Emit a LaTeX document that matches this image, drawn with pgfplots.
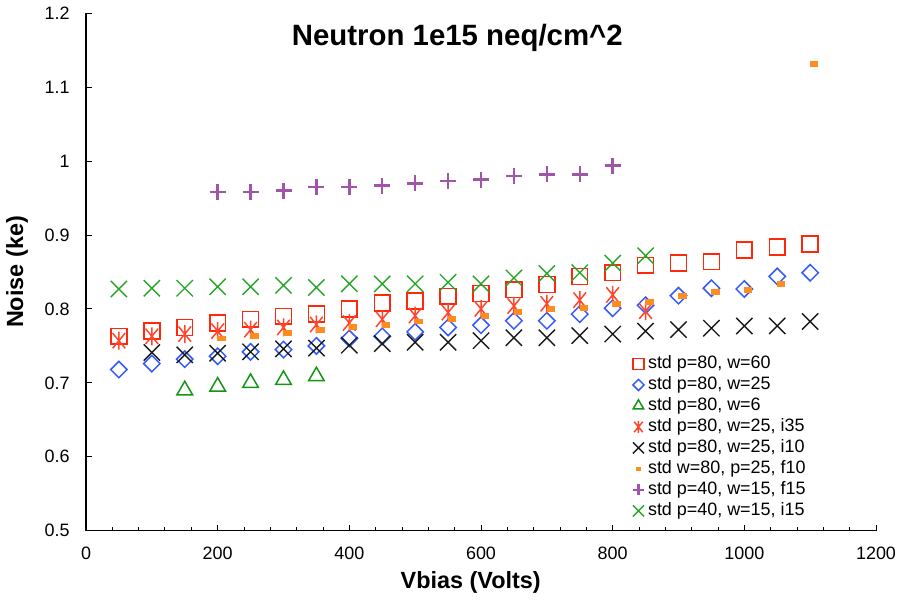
\documentclass[border=0pt]{standalone}
\usepackage{fontspec}
\setmainfont{Liberation Sans}
\usepackage{pgfplots}
\pgfplotsset{compat=1.18}
\usetikzlibrary{plotmarks}

\definecolor{cSq}{RGB}{255,40,10}
\definecolor{cDi}{RGB}{50,90,255}
\definecolor{cTr}{RGB}{20,150,20}
\definecolor{cAs}{RGB}{255,70,45}
\definecolor{cBx}{RGB}{25,25,25}
\definecolor{cOr}{RGB}{255,140,30}
\definecolor{cPu}{RGB}{160,85,170}
\definecolor{cGx}{RGB}{40,165,40}

\pgfdeclareplotmark{xast}{%
  \pgfpathmoveto{\pgfqpoint{0pt}{\pgfplotmarksize}}%
  \pgfpathlineto{\pgfqpoint{0pt}{-\pgfplotmarksize}}%
  \pgfpathmoveto{\pgfqpoint{-0.7\pgfplotmarksize}{-0.85\pgfplotmarksize}}%
  \pgfpathlineto{\pgfqpoint{0.7\pgfplotmarksize}{0.85\pgfplotmarksize}}%
  \pgfpathmoveto{\pgfqpoint{-0.7\pgfplotmarksize}{0.85\pgfplotmarksize}}%
  \pgfpathlineto{\pgfqpoint{0.7\pgfplotmarksize}{-0.85\pgfplotmarksize}}%
  \pgfusepathqstroke}
\pgfdeclareplotmark{dashbox}{%
  \pgfpathrectangle{\pgfqpoint{-\pgfplotmarksize}{-0.7\pgfplotmarksize}}{\pgfqpoint{2\pgfplotmarksize}{1.4\pgfplotmarksize}}%
  \pgfusepathqfill}

\pgfplotstableread{
x y
50 0.763
100 0.770
150 0.775
200 0.781
250 0.786
300 0.790
350 0.793
400 0.800
450 0.808
500 0.811
550 0.817
600 0.821
650 0.826
700 0.833
750 0.844
800 0.849
850 0.859
900 0.862
950 0.864
1000 0.880
1050 0.884
1100 0.888
}\tabSq
\pgfplotstableread{
x y
50 0.718
100 0.726
150 0.732
200 0.736
250 0.742
300 0.745
350 0.750
400 0.760
450 0.763
500 0.769
550 0.775
600 0.778
650 0.784
700 0.784
750 0.793
800 0.801
850 0.805
900 0.818
950 0.828
1000 0.827
1050 0.844
1100 0.849
}\tabDi
\pgfplotstableread{
x y
150 0.690
200 0.695
250 0.700
300 0.704
350 0.709
}\tabTr
\pgfplotstableread{
x y
50 0.757
100 0.763
150 0.766
200 0.770
250 0.772
300 0.775
350 0.779
400 0.781
450 0.786
500 0.791
550 0.795
600 0.800
650 0.804
700 0.807
750 0.812
800 0.819
850 0.797
}\tabAs
\pgfplotstableread{
x y
100 0.741
150 0.738
200 0.740
250 0.742
300 0.746
350 0.747
400 0.751
450 0.753
500 0.755
550 0.755
600 0.757
650 0.761
700 0.761
750 0.764
800 0.766
850 0.770
900 0.772
950 0.774
1000 0.777
1050 0.777
1100 0.783
}\tabBx
\pgfplotstableread{
x y
206 0.760
256 0.764
306 0.767
356 0.772
406 0.775
456 0.778
506 0.783
556 0.787
606 0.791
656 0.796
706 0.800
756 0.801
806 0.807
856 0.810
906 0.817
956 0.823
1006 0.826
1056 0.834
1106 1.131
}\tabOr
\pgfplotstableread{
x y
200 0.958
250 0.958
300 0.960
350 0.965
400 0.965
450 0.967
500 0.970
550 0.973
600 0.975
650 0.980
700 0.982
750 0.982
800 0.994
}\tabPu
\pgfplotstableread{
x y
50 0.827
100 0.828
150 0.828
200 0.830
250 0.830
300 0.832
350 0.829
400 0.834
450 0.834
500 0.834
550 0.836
600 0.834
650 0.842
700 0.848
750 0.849
800 0.862
850 0.872
}\tabGx

\begin{document}
\begin{tikzpicture}
\path[use as bounding box] (-86bp,-72.3bp) rectangle (820bp,530.7bp);
\begin{axis}[
  scale only axis,
  width=790bp, height=517.4bp,
  at={(0,0)}, anchor=south west,
  xmin=0, xmax=1200, ymin=0.5, ymax=1.2,
  axis x line*=bottom, axis y line*=left,
  axis line style={black, line width=1.2bp},
  tick align=inside,
  major tick length=6bp, minor tick length=4bp,
  every tick/.style={black, line width=1bp},
  xtick={0,200,400,600,800,1000,1200},
  minor x tick num=4,
  ytick={0.5,0.6,0.7,0.8,0.9,1,1.1,1.2},
  /pgf/number format/assume math mode=true,
  /pgf/number format/1000 sep={},
  tick label style={font=\fontsize{18}{18}\selectfont},
  xticklabel style={yshift=-13bp},
  yticklabel style={xshift=-13bp},
  xlabel={\bfseries Vbias (Volts)},
  xlabel style={at={(axis description cs:0.487,-0.1005)}, anchor=center, font=\fontsize{23.5}{24}\selectfont},
  ylabel={\bfseries Noise (ke)},
  ylabel style={at={(axis description cs:-0.0873,0.5)}, anchor=center, rotate=0, font=\fontsize{23.5}{24}\selectfont},
  clip=false,
  legend cell align=left,
  legend style={draw=none, fill=none, at={(axis description cs:0.692,0.343)}, anchor=north west,
    inner sep=0pt, row sep=0pt, column sep=2bp,
    font=\fontsize{18}{20}\selectfont,
    nodes={inner sep=2bp, text height=13bp, text depth=4bp}},
  legend image code/.code={\draw[#1, every mark/.append style={scale=0.68}] plot coordinates {(0bp,0bp)};},
]
\addplot[only marks, mark=square, mark size=7.9bp, color=cSq, mark options={line width=1.6bp}] table {\tabSq};
\addlegendentry{std p=80, w=60}
\addplot[only marks, mark=square, mark size=5.8bp, color=cDi, mark options={rotate=45, line width=1.5bp}] table {\tabDi};
\addlegendentry{std p=80, w=25}
\addplot[only marks, mark=triangle, mark size=9bp, color=cTr, mark options={line width=1.5bp}] table {\tabTr};
\addlegendentry{std p=80, w=6}
\addplot[only marks, mark=xast, mark size=9bp, color=cAs, mark options={line width=1.5bp}] table {\tabAs};
\addlegendentry{std p=80, w=25, i35}
\addplot[only marks, mark=x, mark size=11.5bp, color=cBx, mark options={line width=1.4bp}] table {\tabBx};
\addlegendentry{std p=80, w=25, i10}
\addplot[only marks, mark=dashbox, mark size=4.2bp, color=cOr] table {\tabOr};
\addlegendentry{std w=80, p=25, f10}
\addplot[only marks, mark=+, mark size=8bp, color=cPu, mark options={line width=2.4bp}] table {\tabPu};
\addlegendentry{std p=40, w=15, f15}
\addplot[only marks, mark=x, mark size=11.5bp, color=cGx, mark options={line width=1.4bp}] table {\tabGx};
\addlegendentry{std p=40, w=15, i15}
\node[font=\bfseries\fontsize{29.5}{31}\selectfont] at (axis description cs:0.47,0.952) {Neutron 1e15 neq/cm\^{}2};
\end{axis}
\end{tikzpicture}
\end{document}
